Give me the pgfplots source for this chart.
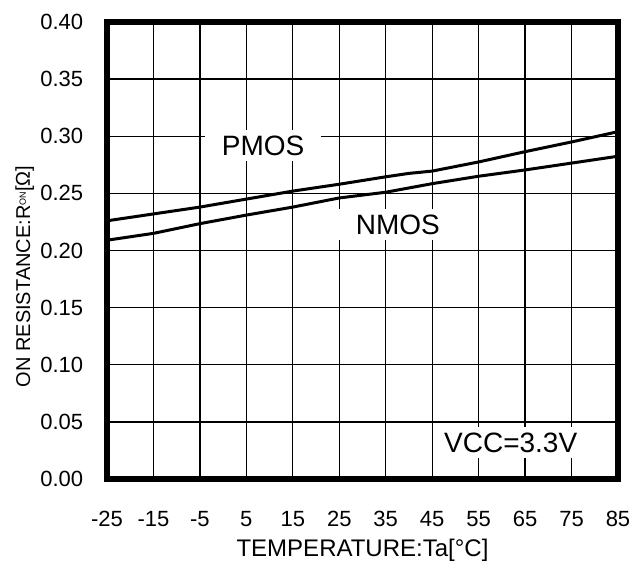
\documentclass[border=0pt]{standalone}
\usepackage{pgfplots}
\pgfplotsset{compat=1.18}
\usepackage{fontspec}
\setmainfont{Liberation Sans}

% on resistance vs temperature, VCC=3.3V
\pgfplotstableread{
T     ron
-25   0.226
-15   0.232
-5    0.238
5     0.245
15    0.252
25    0.258
35    0.2645
40    0.2675
45    0.2695
55    0.2775
65    0.2865
75    0.295
85    0.304
}\pmos
\pgfplotstableread{
T     ron
-25   0.209
-15   0.215
-5    0.2235
5     0.231
15    0.238
25    0.246
35    0.251
45    0.2585
55    0.265
65    0.2705
75    0.2765
85    0.2825
}\nmos

\begin{document}
\begin{tikzpicture}
\begin{axis}[
    scale only axis,
    width=255.5pt, height=228.5pt,
    xmin=-25, xmax=85,
    ymin=0, ymax=0.4,
    xtick={-25,-15,-5,5,15,25,35,45,55,65,75,85},
    ytick={0,0.05,0.1,0.15,0.2,0.25,0.3,0.35,0.4},
    grid=major,
    grid style={black, line width=0.65pt},
    major tick length=0pt,
    axis line style={black, line width=3.3pt, line join=miter},
    /pgf/number format/assume math mode=true,
    tick label style={font=\fontsize{11}{13}\selectfont, inner sep=0pt},
    xticklabel style={anchor=base, yshift=-23.5pt},
    yticklabel style={anchor=east, xshift=-11.75pt,
        /pgf/number format/.cd, fixed, fixed zerofill, precision=2},
    xlabel={TEMPERATURE:Ta[°C]},
    every axis x label/.style={at={([yshift=-39pt]axis description cs:0.5,0)},
        anchor=base, font=\fontsize{12}{14}\selectfont},
    ylabel={ON RESISTANCE:R\raisebox{2pt}{\fontsize{4.5}{5}\selectfont ON}[Ω]},
    every axis y label/.style={at={([xshift=-38.5pt]axis description cs:0,0.443)},
        rotate=90, anchor=base, font=\fontsize{10}{12}\selectfont},
]
\addplot[black, line width=1.5pt] table[x=T, y=ron] {\pmos};
\addplot[black, line width=1.5pt] table[x=T, y=ron] {\nmos};

\node[fill=white, inner xsep=8.5pt, inner ysep=2.8pt, font=\fontsize{14}{16}\selectfont]
    at (axis cs:8.6,0.2917) {PMOS};
\node[fill=white, inner xsep=8.5pt, inner ysep=2.8pt, font=\fontsize{14}{16}\selectfont]
    at (axis cs:37.6,0.2228) {NMOS};
\node[fill=white, inner xsep=3pt, inner ysep=3pt, font=\fontsize{14}{16}\selectfont]
    at (axis cs:61.9,0.0319) {VCC=3.3V};
\end{axis}
\path[use as bounding box] (-53.5pt,-42.5pt) rectangle (262.5pt,239.5pt);
\end{tikzpicture}
\end{document}
